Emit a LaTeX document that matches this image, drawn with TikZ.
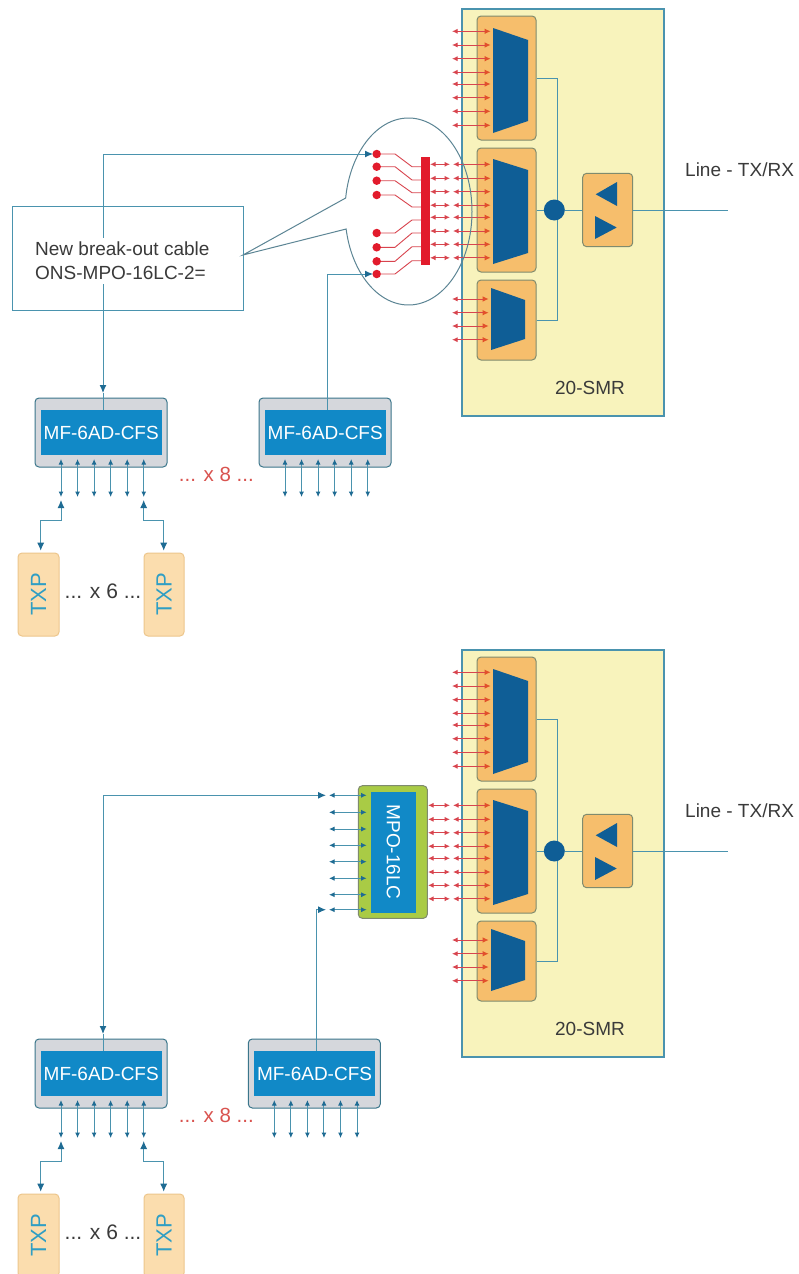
\documentclass[tikz,border=0pt]{standalone}
\usepackage{fontspec}
\setmainfont{Liberation Sans}
\usetikzlibrary{arrows.meta}
\definecolor{yel}{HTML}{F8F3BC}
\definecolor{org}{HTML}{F6BE6C}
\definecolor{orgb}{HTML}{7F8B6E}
\definecolor{dkb}{HTML}{0F5E96}
\definecolor{inb}{HTML}{1189C7}
\definecolor{gry}{HTML}{D5D7DC}
\definecolor{lnb}{HTML}{4A93AE}
\definecolor{hdb}{HTML}{1E6B93}
\definecolor{txpf}{HTML}{FBDDAE}
\definecolor{txpb}{HTML}{EDC68C}
\definecolor{txpt}{HTML}{2F9EC4}
\definecolor{grn}{HTML}{A9CB45}
\definecolor{rd}{HTML}{E21B2C}
\definecolor{rdl}{HTML}{D8444E}
\definecolor{rdh}{HTML}{E2502A}
\definecolor{rdt}{HTML}{D9534F}
\definecolor{txt}{HTML}{3A3A3A}
\tikzset{
  x=1pt,y=-1pt,
  lbl/.style={inner sep=0pt,text=txt,font=\fontsize{19}{24}\selectfont},
  yelbox/.style={draw=lnb,line width=2pt,fill=yel},
  orgbox/.style={draw=orgb,line width=1pt,fill=org,rounded corners=4pt},
  mfbox/.style={draw=lnb!80!black,line width=1pt,fill=gry,rounded corners=4pt},
  inbox/.style={fill=inb,text=white,font=\fontsize{19}{19}\selectfont},
  txpbox/.style={draw=txpb,line width=1pt,fill=txpf,rounded corners=4pt,text=txpt,font=\fontsize{22}{22}\selectfont},
  trap/.style={fill=dkb},
  bl/.style={draw=lnb,line width=1pt},
  bll/.style={draw=lnb,line width=1pt},
  onetip/.style={bll,-{Latex[length=8pt,width=7pt,color=hdb]}},
  twotip/.style={bl,{Latex[length=5.5pt,width=5pt,color=hdb]}-{Latex[length=5.5pt,width=5pt,color=hdb]}},
  redarr/.style={draw=rdl,line width=1pt,{Latex[length=5.5pt,width=5pt,color=rdl]}-{Latex[length=6pt,width=5.5pt,color=rdh]}},
  lcarr/.style={draw=rdl,line width=1pt,{Latex[length=5.5pt,width=5pt,color=rdl]}-{Latex[length=5.5pt,width=5pt,color=rdl]}},
  redwire/.style={draw=rdl,line width=0.9pt},
  dot/.style={circle,fill=rd,inner sep=0pt,minimum size=8.5pt},
}
% #1 style, #2 name, #3-#6 corners, #7 text
\newcommand\rbox[7]{\node[#1,inner sep=0pt,minimum width={((#5)-(#3))*1pt},minimum height={((#6)-(#4))*1pt}] (#2) at ({((#3)+(#5))/2},{((#4)+(#6))/2}) {#7};}
% the 20-SMR block; #1 = x where the mated fibres of the middle unit start
\newcommand\SMRunit[1]{%
  \rbox{yelbox}{smr}{461.5}{9}{664}{416}{}
  \rbox{orgbox}{oa}{477}{16}{536}{140}{}
  \rbox{orgbox}{ob}{477}{148}{536}{272}{}
  \rbox{orgbox}{oc}{477}{280}{536}{360}{}
  \rbox{orgbox}{amp}{582.7}{173.3}{632.7}{246.7}{}
  \fill[trap] (493,28) -- (528,40) -- (528,121) -- (493,133) -- cycle;
  \fill[trap] (493,159) -- (528,170) -- (528,253) -- (493,264) -- cycle;
  \fill[trap] (491,288) -- (525,300) -- (525,339) -- (491,350) -- cycle;
  \fill[trap] (595.7,194.3) -- (617,182) -- (617,206) -- cycle;
  \fill[trap] (595,216) -- (616.7,227.5) -- (595,239) -- cycle;
  \coordinate (bus) at (557.5,210);
  \coordinate (lineend) at (728,210);
  \draw[bl] (oa.east) -| (bus);
  \draw[bl] (oc.east) -| (bus);
  \node[circle,fill=dkb,inner sep=0pt,minimum size=21pt] (jn) at (554.3,210) {};
  \draw[bl] (ob.east) -- (jn);
  \draw[bl] (jn) -- (amp.west);
  \draw[bll] (amp.east) -- (lineend);
  \node[lbl] (smrlab) at (590,388) {20-SMR};
  \node[lbl,anchor=west] (linelab) at (685,170) {Line - TX/RX};
  \foreach[count=\i] \y in {31.3,45,58.7,72.3,84,97.7,111.3,125.3}{
    \coordinate (ra\i) at (452,\y); \coordinate (rb\i) at (490.7,\y);
    \draw[redarr] (ra\i) -- (rb\i);}
  \foreach[count=\i] \y in {299,312.7,326,339.7}{
    \coordinate (rc\i) at (452,\y); \coordinate (rd\i) at (488.7,\y);
    \draw[redarr] (rc\i) -- (rd\i);}
  \foreach[count=\i] \y in {164.3,178.3,191.7,205.2,217.3,231,244.3,257.8}{
    \coordinate (ma\i) at (#1,\y); \coordinate (mb\i) at (450,\y);
    \coordinate (mc\i) at (453,\y); \coordinate (md\i) at (490.7,\y);
    \draw[lcarr] (ma\i) -- (mb\i);
    \draw[redarr] (mc\i) -- (md\i);}
}
% filter unit, #1 name, #2 left x
\newcommand\MFunit[2]{%
  \rbox{mfbox}{#1}{#2}{398}{#2+132}{467}{}
  \rbox{inbox}{#1in}{#2+6}{410}{#2+126.5}{455}{MF-6AD-CFS}
  \foreach \i in {0,...,5}{
    \pgfmathsetmacro\xx{#2+26+16.55*\i}
    \coordinate (#1u\i) at (\xx,459); \coordinate (#1d\i) at (\xx,497);
    \draw[twotip] (#1u\i) -- (#1d\i);}
}
% transponders under the left filter unit
\newcommand\TXPunit{%
  \rbox{txpbox}{tl}{18}{553}{59}{636}{\rotatebox{90}{TXP}}
  \rbox{txpbox}{tr}{144}{553}{184}{636}{\rotatebox{90}{TXP}}
  \node[inner sep=0pt,text=txt,font=\fontsize{21}{21}\selectfont] (xsix) at (103,591) {... x 6 ...};
  \node[inner sep=0pt,text=rdt,font=\fontsize{20.5}{21}\selectfont] (xeight) at (216.3,474.5) {... x 8 ...};
  \coordinate (tla) at (61,500); \coordinate (tlb) at (40.7,550.7);
  \coordinate (tlm) at (61,520); \coordinate (tln) at (40.7,520);
  \coordinate (tra) at (143.7,500); \coordinate (trb) at (163.7,550.7);
  \coordinate (trm) at (143.7,520); \coordinate (trn) at (163.7,520);
  \draw[bll,{Latex[length=8pt,width=7pt,color=hdb]}-{Latex[length=8pt,width=7pt,color=hdb]}] (tla) -- (tlm) -- (tln) -- (tlb);
  \draw[bll,{Latex[length=8pt,width=7pt,color=hdb]}-{Latex[length=8pt,width=7pt,color=hdb]}] (tra) -- (trm) -- (trn) -- (trb);
}
\begin{document}
\begin{tikzpicture}
\useasboundingbox (0,0) rectangle (799,1274);
\clip (0,0) rectangle (799,1274);
\fill[white] (0,0) rectangle (799,1274);

% ---------- upper diagram ----------
\begin{scope}[name prefix=u-]
  \SMRunit{430}
  \MFunit{mfa}{35}
  \MFunit{mfb}{259}
  \TXPunit
  % break-out fan
  \rbox{draw=none,fill=rd}{bar}{421}{157}{430}{265}{}
  \foreach[count=\i] \ya/\yb in {154/166.7,166.7/180,180.7/192.7,195/207,233/220,247.3/233,261.3/246.7,274/260.7}{
    \node[dot] (fd\i) at (376.7,\ya) {};
    \coordinate (fa\i) at (395,\ya);
    \coordinate (fb\i) at (412,\yb);
    \coordinate (fc\i) at (421,\yb);
    \draw[redwire] (fd\i) -- (fa\i) -- (fb\i) -- (fc\i);
  }
  % callout
  \rbox{draw=lnb,line width=1pt}{note}{12}{206}{243}{310}{}
  \coordinate (tip) at (243,255);
  \draw[draw=lnb!70!black!80,line width=1pt] (tip) -- plot[domain=188.3:529.2,samples=120,smooth] ({408.5+63.5*cos(\x)},{211.5+93.5*sin(\x)}) -- cycle;
  % feeds
  \coordinate (feedL) at (103,154);
  \coordinate (feedLb) at (103,393);
  \coordinate (feedLc) at (103,410);
  \coordinate (feedLe) at (373,154);
  \coordinate (feedR) at (327,274);
  \coordinate (feedRb) at (327,410);
  \coordinate (feedRe) at (373,274);
  \draw[onetip] (feedL) -- (feedLe);
  \draw[onetip] (feedL) -- (feedLb);
  \draw[bll] (feedLb) -- (feedLc);
  \draw[onetip] (feedRb) -- (feedR) -- (feedRe);
  \node[lbl,anchor=west,fill=white,align=left,inner ysep=4pt] (notetxt) at (35,261) {New break-out cable\\ONS-MPO-16LC-2=};
\end{scope}

% ---------- lower diagram ----------
\begin{scope}[yshift=-641pt,name prefix=l-]
  \SMRunit{428}
  \MFunit{mfa}{35}
  \MFunit{mfb}{248.3}
  \TXPunit
\end{scope}
\begin{scope}[name prefix=l-]
  \rbox{draw=orgb,line width=1pt,fill=grn,rounded corners=4pt}{mpo}{358.3}{785.7}{427.3}{918.3}{}
  \rbox{inbox}{mpoin}{371}{791.7}{415.7}{912.7}{\rotatebox{-90}{MPO-16LC}}
  \foreach[count=\i] \y in {795.3,812.3,829,845.3,861.7,878.3,894.7,909.7}{
    \coordinate (pa\i) at (329,\y); \coordinate (pb\i) at (366.7,\y);
    \draw[twotip] (pa\i) -- (pb\i);}
  \coordinate (fL) at (103,795.3);
  \coordinate (fLe) at (326,795.3);
  \coordinate (fLb) at (103,1034);
  \coordinate (fLc) at (103,1051);
  \coordinate (fR) at (316,909.7);
  \coordinate (fRb) at (316,1051);
  \coordinate (fRe) at (326,909.7);
  \draw[onetip] (fL) -- (fLe);
  \draw[onetip] (fL) -- (fLb);
  \draw[bll] (fLb) -- (fLc);
  \draw[onetip] (fRb) -- (fR) -- (fRe);
\end{scope}
\end{tikzpicture}
\end{document}
